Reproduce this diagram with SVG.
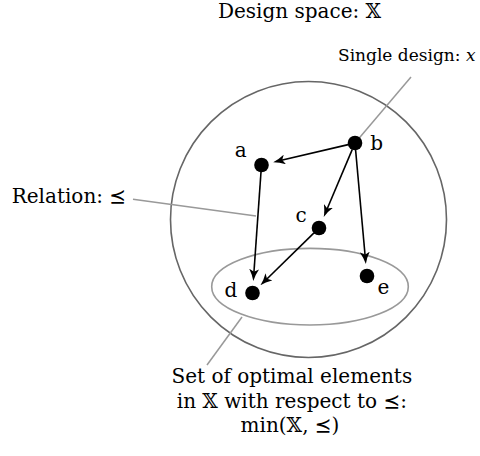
<svg xmlns="http://www.w3.org/2000/svg" width="480" height="456" viewBox="0 0 480 456">
  <style>
    .txt { font-family: "DejaVu Serif", "Liberation Serif", "DejaVu Sans", serif; fill: #000; }
    .sym { font-family: "DejaVu Sans", "DejaVu Serif", "Noto Sans", sans-serif; }
    .lead { stroke: #999; stroke-width: 1.5; fill: none; }
    .edge { stroke: #000; stroke-width: 1.6; fill: none; marker-end: url(#arr); }
    .node { fill: #000; }
  </style>
  <defs>
    <marker id="arr" viewBox="0 -5 12 10" refX="8" refY="0" markerWidth="12" markerHeight="10" markerUnits="userSpaceOnUse" orient="auto">
      <path d="M12,0 Q6,-1.4 0,-5 L2.8,0 L0,5 Q6,1.4 12,0 Z" fill="#000"/>
    </marker>
  </defs>

  <rect width="480" height="456" fill="#fff"/>

  <g id="design-space">
    <circle cx="308.5" cy="219.5" r="138" fill="none" stroke="#666" stroke-width="1.6"/>
    <text class="txt" x="299.5" y="17.5" font-size="20" text-anchor="middle">Design space: 𝕏</text>
  </g>

  <g id="optimal-set">
    <ellipse cx="310" cy="286.7" rx="98.3" ry="38.3" fill="none" stroke="#999" stroke-width="1.6"/>
    <text class="txt" font-size="20" text-anchor="middle">
      <tspan x="295" y="383.3">Set of optimal elements</tspan>
      <tspan x="295" y="407.7">in 𝕏 with respect to <tspan class="sym">⪯</tspan>:</tspan>
      <tspan x="290" y="431.7">min(𝕏, <tspan class="sym">⪯</tspan>)</tspan>
    </text>
  </g>

  <g id="annotations">
    <line class="lead" x1="355" y1="143" x2="411" y2="77"/>
    <text class="txt" x="338" y="60.5" font-size="17">Single design: <tspan font-style="italic">x</tspan></text>
    <line class="lead" x1="133" y1="199.3" x2="256" y2="216"/>
    <text class="txt" x="11.7" y="203.3" font-size="20">Relation: <tspan class="sym">⪯</tspan></text>
    <line class="lead" x1="242" y1="317" x2="207" y2="365"/>
  </g>

  <g id="connectors">
    <line class="edge" x1="348.2" y1="144.6" x2="277.1" y2="161.3"/>
    <line class="edge" x1="352.3" y1="149.4" x2="325.3" y2="213.2"/>
    <line class="edge" x1="355.6" y1="150" x2="365.5" y2="260"/>
    <line class="edge" x1="261" y1="172" x2="253.6" y2="277"/>
    <line class="edge" x1="314" y1="232.9" x2="263.3" y2="282.5"/>
  </g>

  <g id="node-a">
    <circle class="node" cx="261.5" cy="165" r="7.3"/>
    <text class="txt" x="240.7" y="157.3" font-size="20" text-anchor="middle">a</text>
  </g>
  <g id="node-b">
    <circle class="node" cx="355" cy="143" r="7.3"/>
    <text class="txt" x="376.7" y="150" font-size="20" text-anchor="middle">b</text>
  </g>
  <g id="node-c">
    <circle class="node" cx="319" cy="228" r="7.3"/>
    <text class="txt" x="301" y="221.7" font-size="20" text-anchor="middle">c</text>
  </g>
  <g id="node-d">
    <circle class="node" cx="252.5" cy="293" r="7.3"/>
    <text class="txt" x="231" y="296.7" font-size="20" text-anchor="middle">d</text>
  </g>
  <g id="node-e">
    <circle class="node" cx="367" cy="276" r="7.3"/>
    <text class="txt" x="383.3" y="294.3" font-size="20" text-anchor="middle">e</text>
  </g>
</svg>
